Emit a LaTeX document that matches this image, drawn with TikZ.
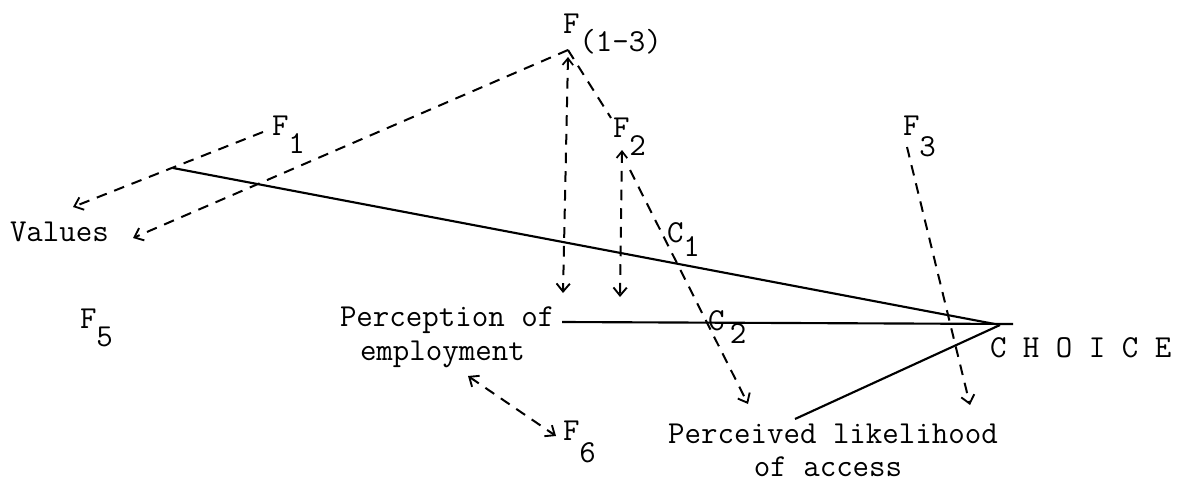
\documentclass[tikz,border=0pt]{standalone}
\usepackage{fontspec}
\usetikzlibrary{arrows.meta}
\newcommand\sbx[2][13.5pt]{\raisebox{-#1}{#2}}
\begin{document}
\begin{tikzpicture}[x=0.75pt,y=-0.75pt,
  every node/.style={inner sep=0pt,outer sep=0pt,font=\ttfamily\fontsize{24pt}{25.5pt}\selectfont},
  lbl/.style={anchor=base west},
  dsh/.style={line width=1.5pt,dash pattern=on 8pt off 6pt},
  sol/.style={line width=1.6pt},
  tip/.style={-{Straight Barb[length=6pt,width=10pt,line width=1.4pt]}},
  tips/.style={{Straight Barb[length=5pt,width=8pt,line width=1.3pt]}-{Straight Barb[length=6pt,width=10pt,line width=1.4pt]}}]
\useasboundingbox (0,0) rectangle (1181,482);
% labels
\node[lbl] (values) at (10,241) {Values};
\node[lbl] (f5) at (80,328) {F\sbx[14pt]{5}};
\node[lbl] (f1) at (272,135) {F\sbx{1}};
\node[lbl] (f13) at (563,33) {F\sbx[14pt]{(1-3)}};
\node[lbl] (f2) at (613,137) {F\sbx{2}};
\node[lbl] (f3) at (903,135) {F\sbx[16pt]{3}};
\node[lbl] (c1) at (667,242) {C\sbx[11pt]{1}};
\node[lbl] (c2) at (708,330) {C\kern4pt\sbx[10pt]{2}};
\node[lbl] (f6) at (563,440) {F\sbx[17pt]{6}};
\node[lbl] (choice) at (990,357) {C H O I C E};
\node[lbl] (perc1) at (340,326) {Perception of};
\node[lbl] (perc2) at (360,360) {employment};
\node[anchor=base] (acc1) at (833,443) {Perceived likelihood};
\node[anchor=base] (acc2) at (828,476) {of access};
% coordinates
\coordinate (apex) at (568,50);
\coordinate (apexv) at (568,57);
\coordinate (valA) at (133,238);
\coordinate (f1s) at (263,132);
\coordinate (valB) at (73,207);
\coordinate (l1s) at (173,168);
\coordinate (ch) at (1000,325);
\coordinate (chend) at (1013,324);
\coordinate (ofend) at (562,322);
\coordinate (l3s) at (795,419);
\coordinate (v1e) at (563,293);
\coordinate (f2in) at (611,118);
\coordinate (f2vs) at (622,150);
\coordinate (f2ve) at (620,297);
\coordinate (f2ds) at (630,170);
\coordinate (f2de) at (748,404);
\coordinate (f3s) at (907,147);
\coordinate (f3e) at (970,405);
\coordinate (d1) at (468,376);
\coordinate (d2) at (556,436);
% solid lines
\draw[sol] (l1s) -- (ch);
\draw[sol] (ofend) -- (chend);
\draw[sol] (l3s) -- (ch);
% dashed arrows
\draw[dsh,tip] (apex) -- (valA);
\draw[dsh,tip] (f1s) -- (valB);
\draw[dsh] (apex) -- (f2in);
\draw[dsh,tips] (apexv) -- (v1e);
\draw[dsh,tips] (f2vs) -- (f2ve);
\draw[dsh,tip] (f2ds) -- (f2de);
\draw[dsh,tip] (f3s) -- (f3e);
\draw[dsh,{Straight Barb[length=6pt,width=10pt,line width=1.4pt]}-{Straight Barb[length=6pt,width=10pt,line width=1.4pt]}] (d1) -- (d2);
\end{tikzpicture}
\end{document}
